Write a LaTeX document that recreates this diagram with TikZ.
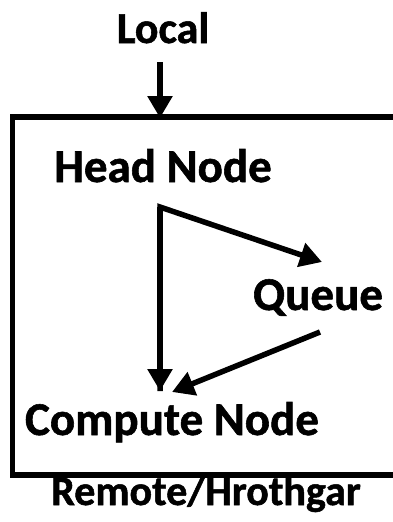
\documentclass[tikz,border=0pt]{standalone}
\usepackage{fontspec}
\setmainfont{Carlito}[BoldFeatures={FakeBold=1.2}]
\usetikzlibrary{arrows.meta}
\begin{document}
\begin{tikzpicture}[x=1pt,y=-1pt,
  lbl/.style={font=\bfseries\fontsize{47}{50}\selectfont, anchor=base, inner sep=0pt},
  conn/.style={line width=5.5pt, -{Triangle[length=22pt,width=24pt]}}]
\useasboundingbox (0,0) rectangle (393,522);
\draw[line width=5.5pt] (420,117) -- (12.5,117) -- (12.5,475) -- (420,475);
\node[lbl, font=\bfseries\fontsize{44}{48}\selectfont] (local) at (163,43) {Local};
\node[lbl] (head) at (163,182) {Head Node};
\node[lbl] (queue) at (318,310) {Queue};
\node[lbl] (compute) at (172,435) {Compute Node};
\node[lbl, font=\bfseries\fontsize{42}{46}\selectfont] (remote) at (206,505) {Remote/Hrothgar};
\coordinate (ls) at (160,62);
\coordinate (lt) at (160,118);
\coordinate (hc) at (160,207);
\coordinate (qt) at (322,262);
\coordinate (qs) at (320,332);
\coordinate (ct1) at (160,391);
\coordinate (ct2) at (172,392);
\draw[conn] (ls) -- (lt);
\draw[conn, line join=miter] (ct1) -- (hc) -- (qt);
\draw[conn] (hc) -- (ct1);
\draw[conn] (qs) -- (ct2);
\end{tikzpicture}
\end{document}
